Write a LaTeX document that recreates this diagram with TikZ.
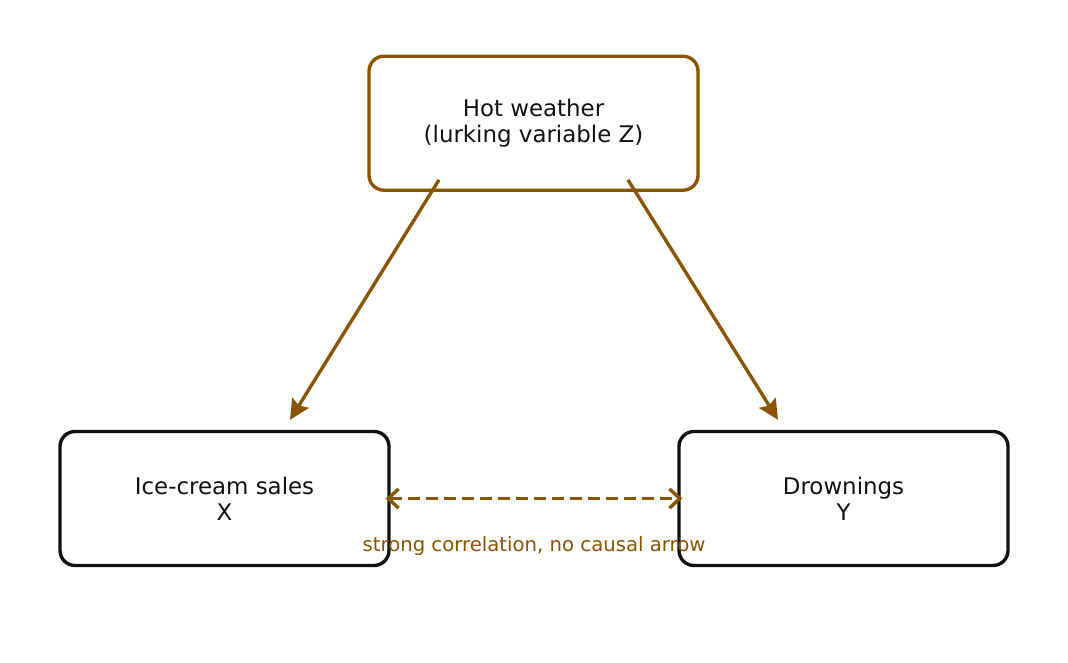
\documentclass[tikz,border=0pt]{standalone}
\usepackage{fontspec}
\setmainfont{DejaVu Sans}
\usetikzlibrary{arrows.meta}
\definecolor{lurk}{RGB}{139,84,0}
\definecolor{ink}{RGB}{17,17,17}

\begin{document}
\begin{tikzpicture}[box/.style={rectangle, rounded corners=0.375cm, minimum width=8.225cm, minimum height=3.35cm, align=center, line width=2.4pt, text=ink, font=\fontsize{16.3}{18.6}\selectfont},
            cause/.style={draw=lurk, line width=2.4pt, -{Stealth[length=0.5cm, width=0.48cm, inset=0.08cm]}},
            link/.style={draw=lurk, line width=2.4pt, dash pattern=on 0.3cm off 0.15cm, {Straight Barb[length=0.26cm, width=0.48cm]}-{Straight Barb[length=0.26cm, width=0.48cm]}}]
        \useasboundingbox (0,0) rectangle (26.7,-16.575);
        \node[box, draw=lurk] (hot) at (13.3375,-3.08) {Hot weather\\(lurking variable Z)};
        \node[box, draw=ink] (ice) at (5.6125,-12.4625) {Ice-cream sales\\X};
        \node[box, draw=ink] (drown) at (21.0875,-12.4625) {Drownings\\Y};
        \draw[cause] ([xshift=-2.3625cm, yshift=0.3cm]hot.south) -- ([xshift=1.6375cm, yshift=0.25cm]ice.north);
        \draw[cause] ([xshift=2.3625cm, yshift=0.3cm]hot.south) -- ([xshift=-1.6375cm, yshift=0.25cm]drown.north);
        \draw[link] ([xshift=-0.125cm]ice.east) -- ([xshift=0.125cm]drown.west)
            node[midway, yshift=-1.2cm, text=lurk, font=\fontsize{14}{16}\selectfont] (note) {strong correlation, no causal arrow};
    \end{tikzpicture}
\end{document}
